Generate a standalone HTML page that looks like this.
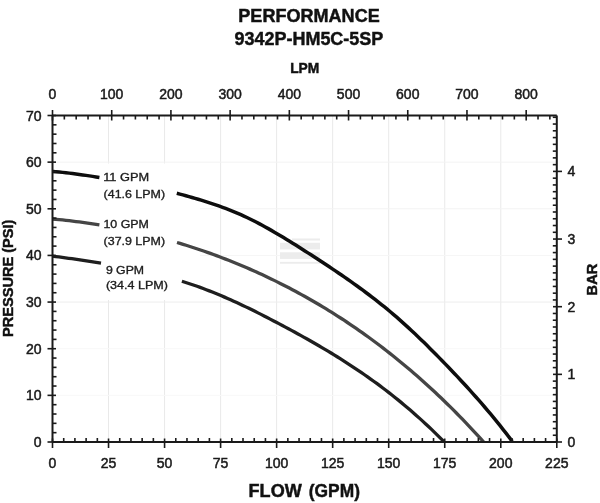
<!DOCTYPE html>
<html><head><meta charset="utf-8"><style>
html,body{margin:0;padding:0;background:#fff;}
svg{display:block;}
text{font-family:"Liberation Sans",Arial,sans-serif;}
</style></head><body>
<svg width="600" height="503" viewBox="0 0 600 503">
<rect width="600" height="503" fill="#fff"/>
<g stroke="#e9e9e9" stroke-width="1">
<line x1="108.53" y1="115.5" x2="108.53" y2="442.0"/>
<line x1="164.57" y1="115.5" x2="164.57" y2="442.0"/>
<line x1="220.60" y1="115.5" x2="220.60" y2="442.0"/>
<line x1="276.63" y1="115.5" x2="276.63" y2="442.0"/>
<line x1="332.67" y1="115.5" x2="332.67" y2="442.0"/>
<line x1="388.70" y1="115.5" x2="388.70" y2="442.0"/>
<line x1="444.73" y1="115.5" x2="444.73" y2="442.0"/>
<line x1="500.77" y1="115.5" x2="500.77" y2="442.0"/>
</g>
<g stroke-width="1">
<line x1="52.5" y1="395.36" x2="556.8" y2="395.36" stroke="#f8f8f8"/>
<line x1="52.5" y1="348.71" x2="556.8" y2="348.71" stroke="#f8f8f8"/>
<line x1="52.5" y1="302.07" x2="556.8" y2="302.07" stroke="#ededed"/>
<line x1="52.5" y1="255.43" x2="556.8" y2="255.43" stroke="#f6f6f6"/>
<line x1="52.5" y1="208.79" x2="556.8" y2="208.79" stroke="#f3f3f3"/>
<line x1="52.5" y1="162.14" x2="556.8" y2="162.14" stroke="#f3f3f3"/>
</g>
<rect x="54" y="163.5" width="146" height="136.5" fill="#fff"/>
<g fill="#ececec">
<rect x="292" y="238.5" width="28" height="2"/>
<rect x="280" y="242.8" width="40" height="6.6"/>
<rect x="280" y="252.3" width="40" height="6.6"/>
<rect x="280" y="261.9" width="40" height="1.8"/>
</g>
<g fill="none" stroke-linecap="butt" stroke-linejoin="round">
<path d="M52.50,171.40 L55.85,171.70 L59.20,172.02 L62.55,172.37 L65.90,172.74 L69.25,173.13 L72.60,173.55 L75.95,173.98 L79.30,174.43 L82.65,174.90 L86.00,175.38 L89.35,175.88 L92.70,176.39 L96.05,176.91 L99.40,177.44" stroke="#0d0d0d" stroke-width="3.5"/>
<path d="M176.80,193.28 L179.85,194.08 L182.90,194.90 L185.95,195.74 L189.00,196.59 L192.05,197.46 L195.10,198.35 L198.15,199.25 L201.20,200.18 L204.25,201.12 L207.30,202.09 L210.35,203.07 L213.40,204.08 L216.45,205.12 L219.50,206.19 L222.55,207.29 L225.60,208.42 L228.65,209.58 L231.70,210.79 L234.75,212.04 L237.80,213.33 L240.85,214.66 L243.90,216.04 L246.95,217.47 L250.00,218.95 L253.05,220.46 L256.10,222.03 L259.15,223.63 L262.20,225.26 L265.25,226.93 L268.30,228.64 L271.35,230.37 L274.40,232.14 L277.45,233.93 L280.50,235.74 L283.55,237.58 L286.60,239.43 L289.65,241.30 L292.70,243.19 L295.75,245.10 L298.80,247.02 L301.85,248.96 L304.90,250.90 L307.95,252.86 L311.00,254.83 L314.05,256.81 L317.10,258.80 L320.15,260.80 L323.20,262.80 L326.25,264.81 L329.30,266.83 L332.35,268.87 L335.40,270.92 L338.45,272.98 L341.50,275.06 L344.55,277.16 L347.60,279.28 L350.65,281.42 L353.70,283.58 L356.75,285.76 L359.80,287.97 L362.85,290.21 L365.90,292.47 L368.95,294.76 L372.00,297.09 L375.05,299.44 L378.10,301.83 L381.15,304.26 L384.20,306.72 L387.25,309.22 L390.30,311.75 L393.35,314.33 L396.40,316.95 L399.45,319.62 L402.50,322.33 L405.55,325.08 L408.60,327.87 L411.65,330.70 L414.70,333.56 L417.75,336.46 L420.80,339.40 L423.85,342.37 L426.90,345.36 L429.95,348.39 L433.00,351.44 L436.05,354.52 L439.10,357.62 L442.15,360.74 L445.20,363.88 L448.25,367.04 L451.30,370.23 L454.35,373.44 L457.40,376.67 L460.45,379.93 L463.50,383.23 L466.55,386.55 L469.60,389.91 L472.65,393.30 L475.70,396.73 L478.75,400.20 L481.80,403.71 L484.85,407.26 L487.90,410.85 L490.95,414.49 L494.00,418.18 L497.05,421.92 L500.10,425.70 L503.15,429.55 L506.20,433.44 L509.25,437.39 L512.30,441.40" stroke="#0d0d0d" stroke-width="3.5"/>
<path d="M52.50,218.99 L55.85,219.30 L59.20,219.63 L62.55,219.98 L65.90,220.34 L69.25,220.72 L72.60,221.12 L75.95,221.53 L79.30,221.96 L82.65,222.41 L86.00,222.88 L89.35,223.36 L92.70,223.86 L96.05,224.37 L99.40,224.91" stroke="#454545" stroke-width="3.3"/>
<path d="M177.00,242.52 L180.04,243.42 L183.07,244.34 L186.11,245.28 L189.15,246.24 L192.18,247.21 L195.22,248.20 L198.26,249.21 L201.29,250.24 L204.33,251.28 L207.37,252.34 L210.40,253.42 L213.44,254.52 L216.48,255.63 L219.51,256.77 L222.55,257.92 L225.59,259.09 L228.62,260.28 L231.66,261.49 L234.70,262.71 L237.73,263.96 L240.77,265.22 L243.81,266.50 L246.84,267.80 L249.88,269.13 L252.92,270.47 L255.95,271.82 L258.99,273.20 L262.03,274.60 L265.06,276.02 L268.10,277.46 L271.14,278.91 L274.17,280.39 L277.21,281.89 L280.25,283.40 L283.28,284.94 L286.32,286.50 L289.36,288.08 L292.39,289.68 L295.43,291.30 L298.47,292.94 L301.50,294.60 L304.54,296.28 L307.58,297.99 L310.61,299.72 L313.65,301.47 L316.69,303.24 L319.72,305.03 L322.76,306.85 L325.80,308.69 L328.83,310.56 L331.87,312.45 L334.90,314.36 L337.94,316.29 L340.98,318.25 L344.01,320.24 L347.05,322.25 L350.09,324.28 L353.12,326.34 L356.16,328.43 L359.20,330.54 L362.23,332.68 L365.27,334.84 L368.31,337.03 L371.34,339.25 L374.38,341.49 L377.42,343.76 L380.45,346.06 L383.49,348.38 L386.53,350.73 L389.56,353.12 L392.60,355.52 L395.64,357.96 L398.67,360.43 L401.71,362.92 L404.75,365.44 L407.78,368.00 L410.82,370.58 L413.86,373.19 L416.89,375.83 L419.93,378.50 L422.97,381.21 L426.00,383.94 L429.04,386.70 L432.08,389.50 L435.11,392.33 L438.15,395.18 L441.19,398.07 L444.22,400.99 L447.26,403.95 L450.30,406.93 L453.33,409.95 L456.37,413.01 L459.41,416.09 L462.44,419.21 L465.48,422.36 L468.52,425.55 L471.55,428.77 L474.59,432.02 L477.63,435.31 L480.66,438.63 L483.70,441.99" stroke="#454545" stroke-width="3.3"/>
<path d="M52.50,256.08 L55.73,256.52 L58.97,256.96 L62.20,257.39 L65.43,257.84 L68.67,258.28 L71.90,258.73 L75.13,259.18 L78.37,259.64 L81.60,260.11 L84.83,260.58 L88.07,261.06 L91.30,261.54 L94.53,262.04 L97.77,262.54 L101.00,263.06" stroke="#1e1e1e" stroke-width="3.3"/>
<path d="M181.90,281.25 L184.94,282.21 L187.99,283.20 L191.03,284.21 L194.08,285.25 L197.12,286.31 L200.17,287.40 L203.21,288.52 L206.25,289.67 L209.30,290.85 L212.34,292.06 L215.39,293.29 L218.43,294.54 L221.47,295.82 L224.52,297.13 L227.56,298.46 L230.61,299.81 L233.65,301.18 L236.70,302.58 L239.74,303.99 L242.78,305.43 L245.83,306.88 L248.87,308.35 L251.92,309.84 L254.96,311.35 L258.00,312.87 L261.05,314.40 L264.09,315.95 L267.14,317.51 L270.18,319.09 L273.23,320.68 L276.27,322.27 L279.31,323.88 L282.36,325.50 L285.40,327.12 L288.45,328.76 L291.49,330.41 L294.53,332.06 L297.58,333.73 L300.62,335.41 L303.67,337.10 L306.71,338.80 L309.76,340.52 L312.80,342.26 L315.84,344.01 L318.89,345.78 L321.93,347.56 L324.98,349.36 L328.02,351.18 L331.07,353.02 L334.11,354.88 L337.15,356.76 L340.20,358.67 L343.24,360.59 L346.29,362.54 L349.33,364.51 L352.37,366.51 L355.42,368.53 L358.46,370.57 L361.51,372.65 L364.55,374.75 L367.60,376.88 L370.64,379.04 L373.68,381.23 L376.73,383.45 L379.77,385.70 L382.82,387.98 L385.86,390.29 L388.90,392.64 L391.95,395.02 L394.99,397.44 L398.04,399.89 L401.08,402.38 L404.13,404.90 L407.17,407.47 L410.21,410.07 L413.26,412.71 L416.30,415.39 L419.35,418.11 L422.39,420.88 L425.43,423.68 L428.48,426.53 L431.52,429.42 L434.57,432.36 L437.61,435.34 L440.66,438.37 L443.70,441.44" stroke="#1e1e1e" stroke-width="3.3"/>
</g>
<g stroke="#1a1a1a" stroke-width="2" fill="none">
<line x1="52.5" y1="115.5" x2="52.5" y2="442.0"/>
<line x1="52.5" y1="442.0" x2="556.8" y2="442.0"/>
<line x1="52.5" y1="115.5" x2="556.8" y2="115.5"/>
<line x1="556.8" y1="115.5" x2="556.8" y2="442.0"/>
</g>
<g stroke="#1a1a1a" stroke-width="1.6">
<line x1="47.5" y1="442.00" x2="56" y2="442.00"/>
<line x1="52.5" y1="432.67" x2="56.5" y2="432.67"/>
<line x1="52.5" y1="423.34" x2="56.5" y2="423.34"/>
<line x1="52.5" y1="414.01" x2="56.5" y2="414.01"/>
<line x1="52.5" y1="404.69" x2="56.5" y2="404.69"/>
<line x1="47.5" y1="395.36" x2="56" y2="395.36"/>
<line x1="52.5" y1="386.03" x2="56.5" y2="386.03"/>
<line x1="52.5" y1="376.70" x2="56.5" y2="376.70"/>
<line x1="52.5" y1="367.37" x2="56.5" y2="367.37"/>
<line x1="52.5" y1="358.04" x2="56.5" y2="358.04"/>
<line x1="47.5" y1="348.71" x2="56" y2="348.71"/>
<line x1="52.5" y1="339.39" x2="56.5" y2="339.39"/>
<line x1="52.5" y1="330.06" x2="56.5" y2="330.06"/>
<line x1="52.5" y1="320.73" x2="56.5" y2="320.73"/>
<line x1="52.5" y1="311.40" x2="56.5" y2="311.40"/>
<line x1="47.5" y1="302.07" x2="56" y2="302.07"/>
<line x1="52.5" y1="292.74" x2="56.5" y2="292.74"/>
<line x1="52.5" y1="283.41" x2="56.5" y2="283.41"/>
<line x1="52.5" y1="274.09" x2="56.5" y2="274.09"/>
<line x1="52.5" y1="264.76" x2="56.5" y2="264.76"/>
<line x1="47.5" y1="255.43" x2="56" y2="255.43"/>
<line x1="52.5" y1="246.10" x2="56.5" y2="246.10"/>
<line x1="52.5" y1="236.77" x2="56.5" y2="236.77"/>
<line x1="52.5" y1="227.44" x2="56.5" y2="227.44"/>
<line x1="52.5" y1="218.11" x2="56.5" y2="218.11"/>
<line x1="47.5" y1="208.79" x2="56" y2="208.79"/>
<line x1="52.5" y1="199.46" x2="56.5" y2="199.46"/>
<line x1="52.5" y1="190.13" x2="56.5" y2="190.13"/>
<line x1="52.5" y1="180.80" x2="56.5" y2="180.80"/>
<line x1="52.5" y1="171.47" x2="56.5" y2="171.47"/>
<line x1="47.5" y1="162.14" x2="56" y2="162.14"/>
<line x1="52.5" y1="152.81" x2="56.5" y2="152.81"/>
<line x1="52.5" y1="143.49" x2="56.5" y2="143.49"/>
<line x1="52.5" y1="134.16" x2="56.5" y2="134.16"/>
<line x1="52.5" y1="124.83" x2="56.5" y2="124.83"/>
<line x1="47.5" y1="115.50" x2="56" y2="115.50"/>
<line x1="52.50" y1="438.5" x2="52.50" y2="448"/>
<line x1="63.71" y1="442.0" x2="63.71" y2="438"/>
<line x1="74.91" y1="442.0" x2="74.91" y2="438"/>
<line x1="86.12" y1="442.0" x2="86.12" y2="438"/>
<line x1="97.33" y1="442.0" x2="97.33" y2="438"/>
<line x1="108.53" y1="438.5" x2="108.53" y2="448"/>
<line x1="119.74" y1="442.0" x2="119.74" y2="438"/>
<line x1="130.95" y1="442.0" x2="130.95" y2="438"/>
<line x1="142.15" y1="442.0" x2="142.15" y2="438"/>
<line x1="153.36" y1="442.0" x2="153.36" y2="438"/>
<line x1="164.57" y1="438.5" x2="164.57" y2="448"/>
<line x1="175.77" y1="442.0" x2="175.77" y2="438"/>
<line x1="186.98" y1="442.0" x2="186.98" y2="438"/>
<line x1="198.19" y1="442.0" x2="198.19" y2="438"/>
<line x1="209.39" y1="442.0" x2="209.39" y2="438"/>
<line x1="220.60" y1="438.5" x2="220.60" y2="448"/>
<line x1="231.81" y1="442.0" x2="231.81" y2="438"/>
<line x1="243.01" y1="442.0" x2="243.01" y2="438"/>
<line x1="254.22" y1="442.0" x2="254.22" y2="438"/>
<line x1="265.43" y1="442.0" x2="265.43" y2="438"/>
<line x1="276.63" y1="438.5" x2="276.63" y2="448"/>
<line x1="287.84" y1="442.0" x2="287.84" y2="438"/>
<line x1="299.05" y1="442.0" x2="299.05" y2="438"/>
<line x1="310.25" y1="442.0" x2="310.25" y2="438"/>
<line x1="321.46" y1="442.0" x2="321.46" y2="438"/>
<line x1="332.67" y1="438.5" x2="332.67" y2="448"/>
<line x1="343.87" y1="442.0" x2="343.87" y2="438"/>
<line x1="355.08" y1="442.0" x2="355.08" y2="438"/>
<line x1="366.29" y1="442.0" x2="366.29" y2="438"/>
<line x1="377.49" y1="442.0" x2="377.49" y2="438"/>
<line x1="388.70" y1="438.5" x2="388.70" y2="448"/>
<line x1="399.91" y1="442.0" x2="399.91" y2="438"/>
<line x1="411.11" y1="442.0" x2="411.11" y2="438"/>
<line x1="422.32" y1="442.0" x2="422.32" y2="438"/>
<line x1="433.53" y1="442.0" x2="433.53" y2="438"/>
<line x1="444.73" y1="438.5" x2="444.73" y2="448"/>
<line x1="455.94" y1="442.0" x2="455.94" y2="438"/>
<line x1="467.15" y1="442.0" x2="467.15" y2="438"/>
<line x1="478.35" y1="442.0" x2="478.35" y2="438"/>
<line x1="489.56" y1="442.0" x2="489.56" y2="438"/>
<line x1="500.77" y1="438.5" x2="500.77" y2="448"/>
<line x1="511.97" y1="442.0" x2="511.97" y2="438"/>
<line x1="523.18" y1="442.0" x2="523.18" y2="438"/>
<line x1="534.39" y1="442.0" x2="534.39" y2="438"/>
<line x1="545.59" y1="442.0" x2="545.59" y2="438"/>
<line x1="556.80" y1="438.5" x2="556.80" y2="448"/>
<line x1="52.50" y1="110" x2="52.50" y2="120.5"/>
<line x1="64.34" y1="115.5" x2="64.34" y2="119.5"/>
<line x1="76.18" y1="115.5" x2="76.18" y2="119.5"/>
<line x1="88.03" y1="115.5" x2="88.03" y2="119.5"/>
<line x1="99.87" y1="115.5" x2="99.87" y2="119.5"/>
<line x1="111.71" y1="110" x2="111.71" y2="120.5"/>
<line x1="123.55" y1="115.5" x2="123.55" y2="119.5"/>
<line x1="135.39" y1="115.5" x2="135.39" y2="119.5"/>
<line x1="147.24" y1="115.5" x2="147.24" y2="119.5"/>
<line x1="159.08" y1="115.5" x2="159.08" y2="119.5"/>
<line x1="170.92" y1="110" x2="170.92" y2="120.5"/>
<line x1="182.76" y1="115.5" x2="182.76" y2="119.5"/>
<line x1="194.60" y1="115.5" x2="194.60" y2="119.5"/>
<line x1="206.45" y1="115.5" x2="206.45" y2="119.5"/>
<line x1="218.29" y1="115.5" x2="218.29" y2="119.5"/>
<line x1="230.13" y1="110" x2="230.13" y2="120.5"/>
<line x1="241.97" y1="115.5" x2="241.97" y2="119.5"/>
<line x1="253.81" y1="115.5" x2="253.81" y2="119.5"/>
<line x1="265.66" y1="115.5" x2="265.66" y2="119.5"/>
<line x1="277.50" y1="115.5" x2="277.50" y2="119.5"/>
<line x1="289.34" y1="110" x2="289.34" y2="120.5"/>
<line x1="301.18" y1="115.5" x2="301.18" y2="119.5"/>
<line x1="313.02" y1="115.5" x2="313.02" y2="119.5"/>
<line x1="324.86" y1="115.5" x2="324.86" y2="119.5"/>
<line x1="336.71" y1="115.5" x2="336.71" y2="119.5"/>
<line x1="348.55" y1="110" x2="348.55" y2="120.5"/>
<line x1="360.39" y1="115.5" x2="360.39" y2="119.5"/>
<line x1="372.23" y1="115.5" x2="372.23" y2="119.5"/>
<line x1="384.07" y1="115.5" x2="384.07" y2="119.5"/>
<line x1="395.92" y1="115.5" x2="395.92" y2="119.5"/>
<line x1="407.76" y1="110" x2="407.76" y2="120.5"/>
<line x1="419.60" y1="115.5" x2="419.60" y2="119.5"/>
<line x1="431.44" y1="115.5" x2="431.44" y2="119.5"/>
<line x1="443.28" y1="115.5" x2="443.28" y2="119.5"/>
<line x1="455.13" y1="115.5" x2="455.13" y2="119.5"/>
<line x1="466.97" y1="110" x2="466.97" y2="120.5"/>
<line x1="478.81" y1="115.5" x2="478.81" y2="119.5"/>
<line x1="490.65" y1="115.5" x2="490.65" y2="119.5"/>
<line x1="502.49" y1="115.5" x2="502.49" y2="119.5"/>
<line x1="514.34" y1="115.5" x2="514.34" y2="119.5"/>
<line x1="526.18" y1="110" x2="526.18" y2="120.5"/>
<line x1="538.02" y1="115.5" x2="538.02" y2="119.5"/>
<line x1="549.86" y1="115.5" x2="549.86" y2="119.5"/>
<line x1="553" y1="442.00" x2="562" y2="442.00"/>
<line x1="556.8" y1="435.24" x2="552.8" y2="435.24"/>
<line x1="556.8" y1="428.47" x2="552.8" y2="428.47"/>
<line x1="556.8" y1="421.71" x2="552.8" y2="421.71"/>
<line x1="556.8" y1="414.94" x2="552.8" y2="414.94"/>
<line x1="556.8" y1="408.18" x2="552.8" y2="408.18"/>
<line x1="556.8" y1="401.41" x2="552.8" y2="401.41"/>
<line x1="556.8" y1="394.65" x2="552.8" y2="394.65"/>
<line x1="556.8" y1="387.88" x2="552.8" y2="387.88"/>
<line x1="556.8" y1="381.12" x2="552.8" y2="381.12"/>
<line x1="553" y1="374.35" x2="562" y2="374.35"/>
<line x1="556.8" y1="367.59" x2="552.8" y2="367.59"/>
<line x1="556.8" y1="360.82" x2="552.8" y2="360.82"/>
<line x1="556.8" y1="354.06" x2="552.8" y2="354.06"/>
<line x1="556.8" y1="347.29" x2="552.8" y2="347.29"/>
<line x1="556.8" y1="340.53" x2="552.8" y2="340.53"/>
<line x1="556.8" y1="333.76" x2="552.8" y2="333.76"/>
<line x1="556.8" y1="327.00" x2="552.8" y2="327.00"/>
<line x1="556.8" y1="320.23" x2="552.8" y2="320.23"/>
<line x1="556.8" y1="313.47" x2="552.8" y2="313.47"/>
<line x1="553" y1="306.70" x2="562" y2="306.70"/>
<line x1="556.8" y1="299.94" x2="552.8" y2="299.94"/>
<line x1="556.8" y1="293.17" x2="552.8" y2="293.17"/>
<line x1="556.8" y1="286.41" x2="552.8" y2="286.41"/>
<line x1="556.8" y1="279.64" x2="552.8" y2="279.64"/>
<line x1="556.8" y1="272.88" x2="552.8" y2="272.88"/>
<line x1="556.8" y1="266.11" x2="552.8" y2="266.11"/>
<line x1="556.8" y1="259.35" x2="552.8" y2="259.35"/>
<line x1="556.8" y1="252.58" x2="552.8" y2="252.58"/>
<line x1="556.8" y1="245.82" x2="552.8" y2="245.82"/>
<line x1="553" y1="239.05" x2="562" y2="239.05"/>
<line x1="556.8" y1="232.29" x2="552.8" y2="232.29"/>
<line x1="556.8" y1="225.52" x2="552.8" y2="225.52"/>
<line x1="556.8" y1="218.76" x2="552.8" y2="218.76"/>
<line x1="556.8" y1="211.99" x2="552.8" y2="211.99"/>
<line x1="556.8" y1="205.23" x2="552.8" y2="205.23"/>
<line x1="556.8" y1="198.46" x2="552.8" y2="198.46"/>
<line x1="556.8" y1="191.70" x2="552.8" y2="191.70"/>
<line x1="556.8" y1="184.93" x2="552.8" y2="184.93"/>
<line x1="556.8" y1="178.17" x2="552.8" y2="178.17"/>
<line x1="553" y1="171.40" x2="562" y2="171.40"/>
<line x1="556.8" y1="164.64" x2="552.8" y2="164.64"/>
<line x1="556.8" y1="157.87" x2="552.8" y2="157.87"/>
<line x1="556.8" y1="151.11" x2="552.8" y2="151.11"/>
<line x1="556.8" y1="144.34" x2="552.8" y2="144.34"/>
<line x1="556.8" y1="137.58" x2="552.8" y2="137.58"/>
<line x1="556.8" y1="130.81" x2="552.8" y2="130.81"/>
<line x1="556.8" y1="124.05" x2="552.8" y2="124.05"/>
<line x1="556.8" y1="117.28" x2="552.8" y2="117.28"/>
</g>
<g fill="#1a1a1a" font-size="14" stroke="#1a1a1a" stroke-width="0.5">
<text x="41.6" y="447.00" text-anchor="end">0</text>
<text x="41.6" y="400.36" text-anchor="end">10</text>
<text x="41.6" y="353.71" text-anchor="end">20</text>
<text x="41.6" y="307.07" text-anchor="end">30</text>
<text x="41.6" y="260.43" text-anchor="end">40</text>
<text x="41.6" y="213.79" text-anchor="end">50</text>
<text x="41.6" y="167.14" text-anchor="end">60</text>
<text x="41.6" y="120.50" text-anchor="end">70</text>
<text x="52.50" y="468.2" text-anchor="middle">0</text>
<text x="108.53" y="468.2" text-anchor="middle">25</text>
<text x="164.57" y="468.2" text-anchor="middle">50</text>
<text x="220.60" y="468.2" text-anchor="middle">75</text>
<text x="276.63" y="468.2" text-anchor="middle">100</text>
<text x="332.67" y="468.2" text-anchor="middle">125</text>
<text x="388.70" y="468.2" text-anchor="middle">150</text>
<text x="444.73" y="468.2" text-anchor="middle">175</text>
<text x="500.77" y="468.2" text-anchor="middle">200</text>
<text x="556.80" y="468.2" text-anchor="middle">225</text>
<text x="52.50" y="98.6" text-anchor="middle">0</text>
<text x="111.71" y="98.6" text-anchor="middle">100</text>
<text x="170.92" y="98.6" text-anchor="middle">200</text>
<text x="230.13" y="98.6" text-anchor="middle">300</text>
<text x="289.34" y="98.6" text-anchor="middle">400</text>
<text x="348.55" y="98.6" text-anchor="middle">500</text>
<text x="407.76" y="98.6" text-anchor="middle">600</text>
<text x="466.97" y="98.6" text-anchor="middle">700</text>
<text x="526.18" y="98.6" text-anchor="middle">800</text>
<text x="567.4" y="447.00">0</text>
<text x="567.4" y="379.35">1</text>
<text x="567.4" y="311.70">2</text>
<text x="567.4" y="244.05">3</text>
<text x="567.4" y="176.40">4</text>
</g>
<g fill="#1c1c1c" font-size="11.6" stroke="#1c1c1c" stroke-width="0.35">
<text x="103.2" y="181.3" textLength="45.94" lengthAdjust="spacingAndGlyphs">11 GPM</text>
<text x="103.6" y="198.1" textLength="61.49" lengthAdjust="spacingAndGlyphs">(41.6 LPM)</text>
<text x="103.4" y="228.4" textLength="45.54" lengthAdjust="spacingAndGlyphs">10 GPM</text>
<text x="103.6" y="244.9" textLength="61.49" lengthAdjust="spacingAndGlyphs">(37.9 LPM)</text>
<text x="105.9" y="273.5" textLength="38.18" lengthAdjust="spacingAndGlyphs">9 GPM</text>
<text x="105.9" y="288.5" textLength="62.09" lengthAdjust="spacingAndGlyphs">(34.4 LPM)</text>
</g>
<g fill="#111" font-weight="bold" stroke="#111" stroke-width="0.45">
<text x="238.3" y="21.5" font-size="17.5" textLength="141.43" lengthAdjust="spacingAndGlyphs">PERFORMANCE</text>
<text x="234.5" y="45.4" font-size="18.2" textLength="148.8" lengthAdjust="spacingAndGlyphs">9342P-HM5C-5SP</text>
<text x="290.2" y="73.2" font-size="14" textLength="29.15" lengthAdjust="spacingAndGlyphs">LPM</text>
<text x="248.6" y="497" font-size="17.5" textLength="53.13" lengthAdjust="spacingAndGlyphs">FLOW</text>
<text x="308.8" y="497" font-size="17.5" textLength="51.13" lengthAdjust="spacingAndGlyphs">(GPM)</text>
<text transform="translate(13.3,337.0) rotate(-90)" font-size="13.8" textLength="117.4" lengthAdjust="spacingAndGlyphs">PRESSURE (PSI)</text>
<text transform="translate(597.4,295.4) rotate(-90)" font-size="14" textLength="31.6" lengthAdjust="spacingAndGlyphs">BAR</text>
</g>
</svg>
</body></html>
